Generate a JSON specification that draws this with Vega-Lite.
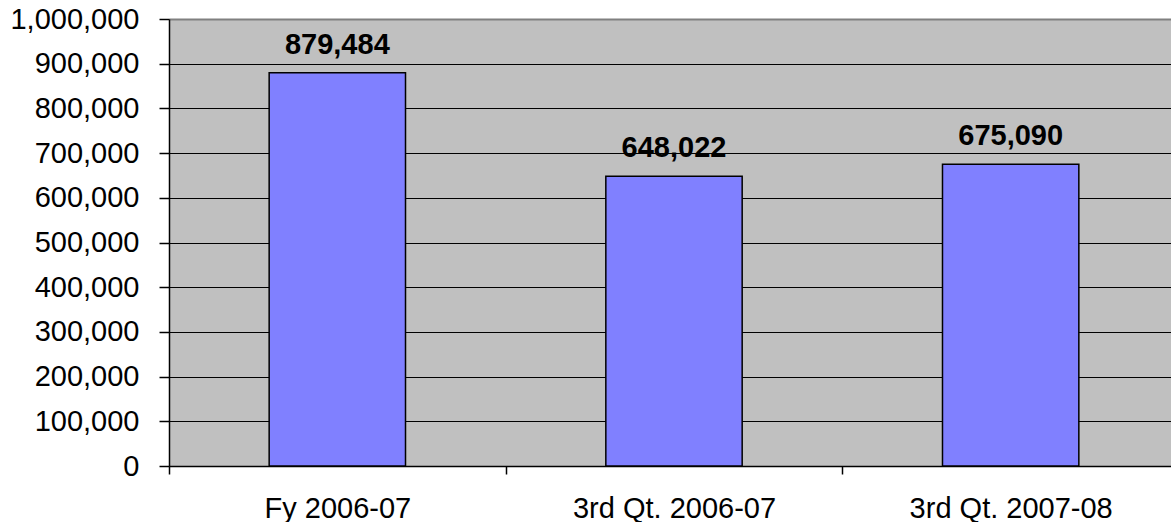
{
  "$schema": "https://vega.github.io/schema/vega-lite/v6.json",
  "width": 1010,
  "height": 447,
  "autosize": {"type": "none"},
  "padding": {"left": 169, "top": 19, "right": 0, "bottom": 56},
  "background": "white",
  "config": {
    "view": {"fill": "#C0C0C0", "stroke": null},
    "font": "Liberation Sans"
  },
  "data": {
    "values": [
      {"period": "Fy 2006-07", "value": 879484},
      {"period": "3rd Qt. 2006-07", "value": 648022},
      {"period": "3rd Qt. 2007-08", "value": 675090}
    ]
  },
  "encoding": {
    "x": {
      "field": "period",
      "type": "nominal",
      "sort": null,
      "scale": {"paddingInner": 0, "paddingOuter": 0},
      "axis": {
        "title": null,
        "labelAngle": 0,
        "tickBand": "extent",
        "tickSize": 8,
        "tickColor": "black",
        "tickWidth": 1.5,
        "domainColor": "black",
        "domainWidth": 1.5,
        "labelPadding": 20,
        "labelFontSize": 29,
        "labelLimit": 0,
        "labelColor": "black",
        "labelFont": "Liberation Sans",
        "grid": false
      }
    },
    "y": {
      "field": "value",
      "type": "quantitative",
      "scale": {"domain": [0, 1000000], "nice": false},
      "axis": {
        "title": null,
        "values": [0, 100000, 200000, 300000, 400000, 500000, 600000, 700000, 800000, 900000, 1000000],
        "format": ",d",
        "tickSize": 10,
        "tickColor": "black",
        "tickWidth": 1.5,
        "domainColor": "black",
        "domainWidth": 1.5,
        "labelPadding": 20,
        "labelFontSize": 29,
        "labelLimit": 0,
        "labelColor": "black",
        "labelFont": "Liberation Sans",
        "grid": true,
        "gridColor": {"condition": {"test": "datum.value == 1000000", "value": "#808080"}, "value": "black"},
        "gridWidth": {"condition": {"test": "datum.value == 1000000", "value": 2}, "value": 1.2},
        "gridOpacity": 1
      }
    }
  },
  "layer": [
    {
      "mark": {"type": "bar", "width": {"band": 0.405}, "fill": "#8080FF", "stroke": "black", "strokeWidth": 1.5}
    },
    {
      "mark": {"type": "text", "fontWeight": "bold", "fontSize": 29, "dy": -19, "baseline": "alphabetic", "color": "black", "font": "Liberation Sans"},
      "encoding": {
        "text": {"field": "value", "type": "quantitative", "format": ","}
      }
    }
  ]
}
